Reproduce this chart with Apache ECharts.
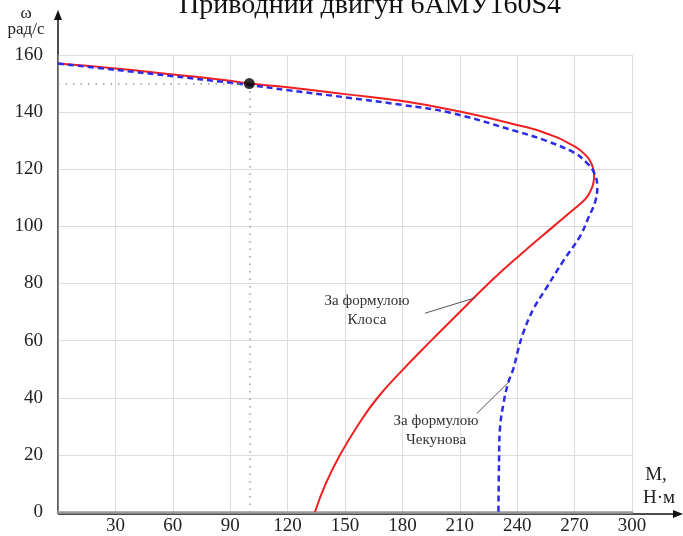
<!DOCTYPE html>
<html>
<head>
<meta charset="utf-8">
<script src="https://cdn.jsdelivr.net/npm/echarts@6/dist/echarts.min.js"></script>
<style>
html,body{margin:0;padding:0;background:#fff;}
#main{width:683px;height:536px;}
</style>
</head>
<body>
<div id="main"></div>
<script>
// крива за формулою Клоса: M (Н*м), omega (рад/с)
var klossM = [0, 30, 60, 90, 100, 120, 150, 180, 210, 240, 255, 270, 276.4, 279, 280.2, 279.8, 278, 275.5, 269.4, 259, 241.5, 225, 210, 195, 180.5, 167, 156.4, 147.4, 140, 134.3];
var klossW = [157, 155.3, 153.2, 151, 150, 148.7, 146.3, 143.9, 140.2, 135.5, 132.6, 128, 124.5, 121.6, 118, 115.2, 112, 109.5, 105.9, 100, 90, 80, 70, 60, 50, 40, 30, 20, 10, 0];
// крива за формулою Чекунова
var chekM = [0, 30, 60, 90, 100, 120, 150, 180, 205, 240, 255, 270, 276.4, 279.8, 281.9, 280.7, 277.2, 272.9, 264.1, 255.4, 248.5, 243.3, 240.6, 238, 235.4, 233, 231, 230.5, 230.2];
var chekW = [157, 154.8, 152.6, 150.3, 149.5, 147.7, 145.2, 142.5, 139.8, 133.2, 130, 125.7, 122.2, 119.3, 114, 108.5, 103, 96.6, 87.9, 78.6, 71.1, 63, 57.1, 50.2, 45.5, 38.6, 29.3, 17.7, 0];
// робоча точка
var workPoint = [100, 150];
// підписи та виноски
var klossNote = [161.5, 70.4];
var klossLeader = [[191.8, 69.6], [218, 75]];
var chekNote = [197.6, 28.4];
var chekLeader = [[218.9, 34.5], [235.9, 45.7]];
var xTicks = [0, 300, 30];
var yTicks = [0, 160, 20];

var serif = 'Liberation Serif';

function pairs(xs, ys) {
    var out = [];
    for (var i = 0; i < xs.length; i++) {
        out.push([xs[i], ys[i]]);
    }
    return out;
}

function notePoint(pos, text) {
    return {
        coord: pos,
        symbol: 'circle',
        symbolSize: 0,
        label: {
            show: true,
            position: 'inside',
            formatter: text,
            fontFamily: serif,
            fontSize: 15,
            lineHeight: 19,
            color: '#333'
        }
    };
}

function makechart() {
    var myChart = echarts.init(document.getElementById('main'));
    myChart.setOption({
        animation: false,
        backgroundColor: '#fff',
        grid: { left: 58, right: 51, top: 55, bottom: 22 },
        xAxis: [{
            type: 'value', min: xTicks[0], max: xTicks[1], interval: xTicks[2],
            axisLine: { show: false },
            axisTick: { show: false },
            splitLine: { lineStyle: { color: '#dcdcdc', width: 1 } },
            axisLabel: { showMinLabel: false, margin: 5, fontFamily: serif, fontSize: 19, color: '#222' }
        }, {
            type: 'value', position: 'top', min: xTicks[0], max: xTicks[1],
            axisLine: { show: true, lineStyle: { color: '#9a9a9a', width: 2.5 } },
            axisTick: { show: false }, axisLabel: { show: false }, splitLine: { show: false }
        }],
        yAxis: [{
            type: 'value', min: yTicks[0], max: yTicks[1], interval: yTicks[2],
            axisLine: { show: false },
            axisTick: { show: false },
            splitLine: { lineStyle: { color: '#dcdcdc', width: 1 } },
            axisLabel: { margin: 15, fontFamily: serif, fontSize: 19, color: '#222', padding: [4, 0, 0, 0] }
        }, {
            type: 'value', position: 'right', min: yTicks[0], max: yTicks[1],
            axisLine: { show: true, lineStyle: { color: '#666', width: 1.5 } },
            axisTick: { show: false }, axisLabel: { show: false }, splitLine: { show: false }
        }],
        series: [{
            name: 'Клоса',
            type: 'line',
            data: pairs(klossM, klossW),
            showSymbol: false,
            smooth: 0.5,
            lineStyle: { color: '#f02020', width: 2 },
            markLine: {
                silent: true, symbol: 'none', label: { show: false },
                lineStyle: { color: '#555', width: 1, type: 'solid' },
                data: [[{ coord: klossLeader[0] }, { coord: klossLeader[1] }]]
            },
            markPoint: { silent: true, data: [notePoint(klossNote, 'За формулою\nКлоса')] }
        }, {
            name: 'Чекунова',
            type: 'line',
            data: pairs(chekM, chekW),
            showSymbol: false,
            smooth: 0.4,
            lineStyle: { color: '#2b2be8', width: 2.5, type: [6, 4] },
            markLine: {
                silent: true, symbol: 'none', label: { show: false },
                lineStyle: { color: '#555', width: 1, type: 'solid' },
                data: [[{ coord: chekLeader[0] }, { coord: chekLeader[1] }]]
            },
            markPoint: { silent: true, data: [notePoint(chekNote, 'За формулою\nЧекунова')] }
        }, {
            name: 'точка',
            type: 'scatter',
            data: [workPoint],
            symbolSize: 11,
            itemStyle: { color: '#000' },
            z: 5,
            markLine: {
                silent: true, symbol: 'none', label: { show: false },
                lineStyle: { color: '#999', width: 1.5, type: [1.5, 6] },
                data: [
                    [{ coord: [0, workPoint[1]] }, { coord: workPoint }],
                    [{ coord: workPoint }, { coord: [workPoint[0], 0] }]
                ]
            }
        }],
        graphic: [
            { type: 'text', style: { text: 'Приводний двигун 6АМУ160S4', x: 370, y: 20, align: 'center', verticalAlign: 'bottom', font: '28px "Liberation Serif"', fill: '#111' } },
            { type: 'line', shape: { x1: 58, y1: 514, x2: 678, y2: 514 }, style: { stroke: '#111', lineWidth: 1.5 } },
            { type: 'polygon', shape: { points: [[683, 514], [673, 510], [673, 518]] }, style: { fill: '#111' } },
            { type: 'line', shape: { x1: 58, y1: 514, x2: 58, y2: 16 }, style: { stroke: '#111', lineWidth: 1.5 } },
            { type: 'polygon', shape: { points: [[58, 10], [54, 20], [62, 20]] }, style: { fill: '#111' } },
            { type: 'text', style: { text: 'ω', x: 26, y: 14, align: 'center', verticalAlign: 'middle', font: '17px "Liberation Serif"', fill: '#222' } },
            { type: 'text', style: { text: 'рад/с', x: 26, y: 30, align: 'center', verticalAlign: 'middle', font: '17px "Liberation Serif"', fill: '#222' } },
            { type: 'text', style: { text: 'М,', x: 656, y: 475, align: 'center', verticalAlign: 'middle', font: '19px "Liberation Serif"', fill: '#222' } },
            { type: 'text', style: { text: 'Н·м', x: 659, y: 498, align: 'center', verticalAlign: 'middle', font: '19px "Liberation Serif"', fill: '#222' } }
        ]
    });
}

makechart();
</script>
</body>
</html>
